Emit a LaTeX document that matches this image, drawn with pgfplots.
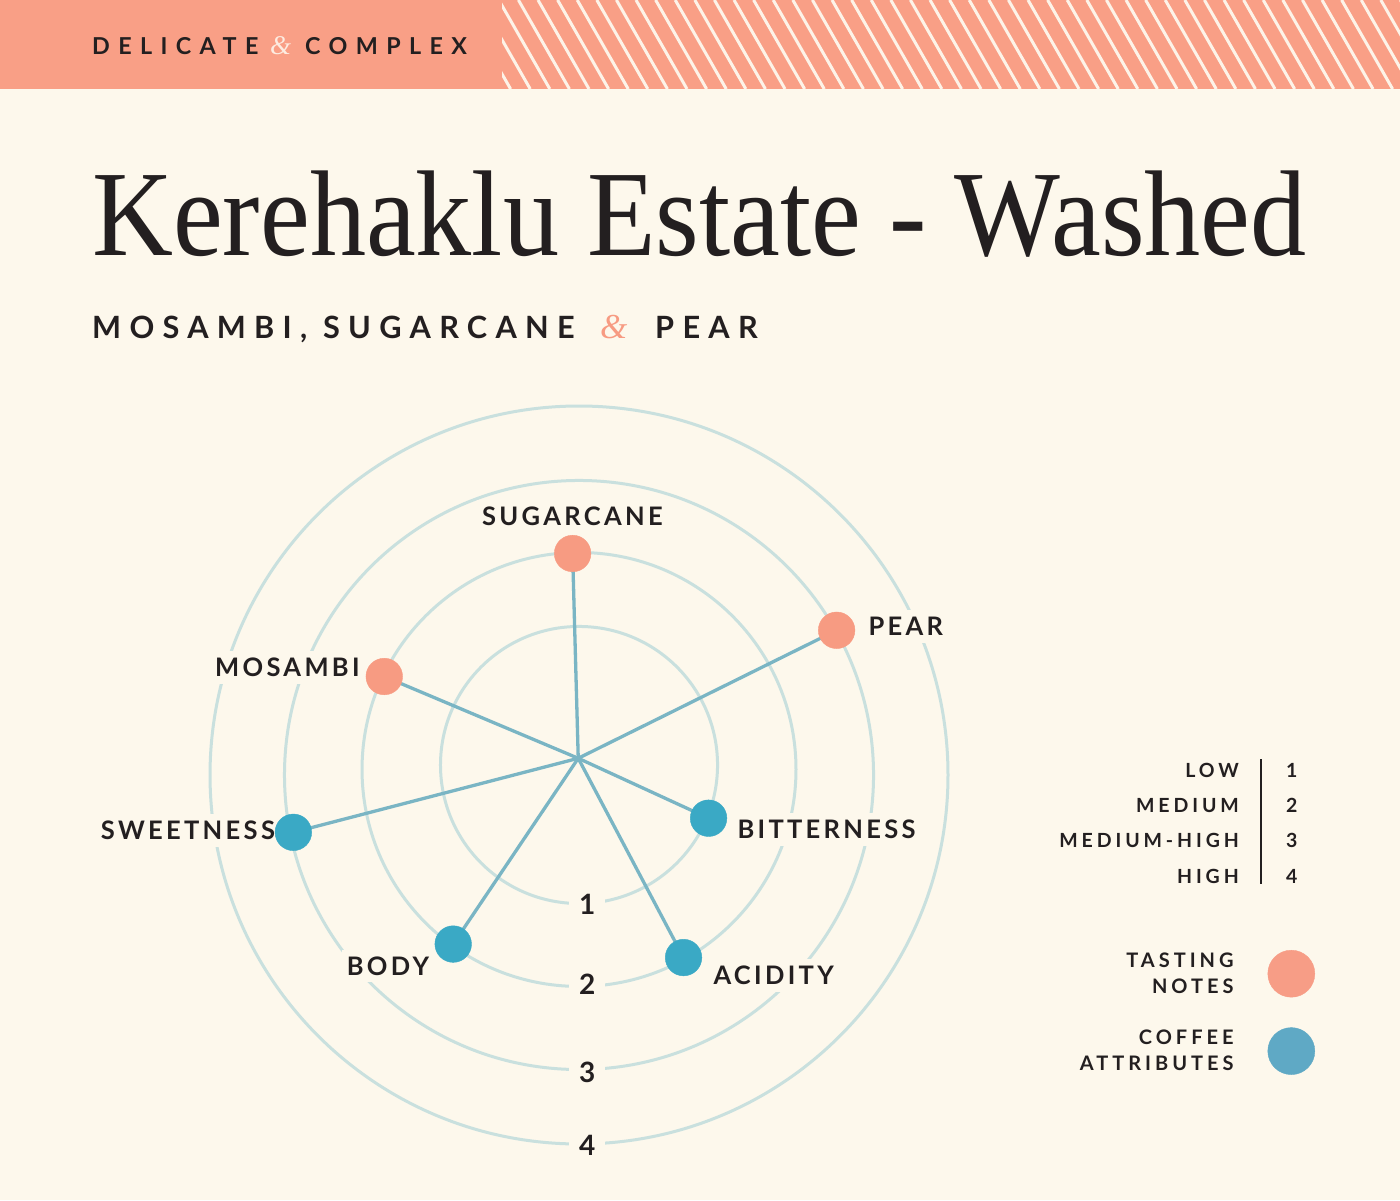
\documentclass[border=0pt]{standalone}
\usepackage{fontspec}
\usepackage{pgfplots}
\usepackage{pgfplotstable}
\pgfplotsset{compat=1.18}
\setmainfont{Liberation Serif}
\newfontfamily\labelfont{Lato}[LetterSpace=13]
\newfontfamily\subfont{Lato}[LetterSpace=27]
\newfontfamily\bannerfont{Lato}[LetterSpace=36]
\newfontfamily\keyfont{Lato}[LetterSpace=20]
\newfontfamily\numfont{Lato}
\newfontfamily\ampfont{Liberation Serif}

\definecolor{cream}{RGB}{253,248,236}
\definecolor{banner}{RGB}{249,159,134}
\definecolor{stripe}{RGB}{253,243,232}
\definecolor{ink}{RGB}{35,31,32}
\definecolor{ring}{RGB}{201,224,222}
\definecolor{spoke}{RGB}{122,181,196}
\definecolor{note}{RGB}{247,155,130}
\definecolor{attr}{RGB}{58,169,197}
\definecolor{keynote}{RGB}{247,157,134}
\definecolor{keyattr}{RGB}{95,169,197}
\definecolor{ampban}{RGB}{253,236,225}

% angle in degrees, value on the 1-4 scale
\pgfplotstableread{
angle value
91.7  2
28.3  3
154.6 2
}\notes
\pgfplotstableread{
angle value
192.5 3
234.3 2
299.0 2
339.2 1
}\attrs

\newcommand\lab{\labelfont\bfseries\fontsize{25.5bp}{30bp}\selectfont}
\newcommand\legfont{\keyfont\bfseries\fontsize{20bp}{26bp}\selectfont}

\begin{document}
\begin{tikzpicture}[x=1bp,y=1bp]
\fill[cream] (0,0) rectangle (1400,1200);
\fill[banner] (0,1111) rectangle (1400,1200);
\begin{scope}
  \clip (502,1111) rectangle (1400,1200);
  \foreach \i in {0,...,50}
    \draw[stripe, line width=3bp] ({440+19.6*\i},1200) -- ({491+19.6*\i},1111);
\end{scope}

% banner text
\node[anchor=base west, inner sep=0, text=ink, font=\bannerfont\bfseries\fontsize{23.3bp}{28bp}\selectfont] at (92,1145) {DELICATE};
\node[anchor=base west, inner sep=0, text=ampban, font=\ampfont\itshape\fontsize{27bp}{28bp}\selectfont] at (270,1145) {\&};
\node[anchor=base west, inner sep=0, text=ink, font=\bannerfont\bfseries\fontsize{23.3bp}{28bp}\selectfont] at (305,1145) {COMPLEX};

% title and subtitle
\node[anchor=base west, inner sep=0, text=ink, font=\fontsize{122bp}{130bp}\selectfont] at (92,944) {\scalebox{0.919}[1]{Kerehaklu Estate - Washed}};
\node[anchor=base west, inner sep=0, text=ink, font=\subfont\bfseries\fontsize{30.7bp}{34bp}\selectfont] at (92,861) {MOSAMBI, SUGARCANE};
\node[anchor=base west, inner sep=0, text=note, font=\ampfont\itshape\fontsize{35bp}{36bp}\selectfont] at (600,861) {\&};
\node[anchor=base west, inner sep=0, text=ink, font=\subfont\bfseries\fontsize{30.7bp}{34bp}\selectfont] at (655,861) {PEAR};

\begin{axis}[
    at={(579bp,431bp)}, anchor=origin,
    x=77bp, y=77bp,
    xmin=-5, xmax=5, ymin=-5, ymax=5,
    hide axis, clip=false,
    legend plot pos=right,
    legend cell align=right,
    legend style={draw=none, fill=none, at={(1.4561,0.2652)}, anchor=north east,
        font=\legfont, text=ink, row sep=30bp, column sep=34bp, inner sep=0pt,
        nodes={inner sep=0pt, align=right}},
]
\draw[ring, line width=3bp] (axis cs:0,0.052) circle[radius=1.799];
\draw[ring, line width=3bp] (axis cs:0,-0.006) circle[radius=2.818];
\draw[ring, line width=3bp] (axis cs:0,-0.078) circle[radius=3.825];
\draw[ring, line width=3bp] (axis cs:0,-0.078) circle[radius=4.792];

\tikzset{lab/.style={font=\lab, text=ink, fill=cream, inner xsep=5bp, inner ysep=7bp, anchor=west}}
\node[lab] at (axis cs:-1.325,3.286) {SUGARCANE};
\node[lab] at (axis cs:-4.792,1.321) {MOSAMBI};
\node[lab] at (axis cs:-6.277,-0.801) {SWEETNESS};
\node[lab] at (axis cs:-3.082,-2.558) {BODY};
\node[lab] at (axis cs:3.692,1.848) {PEAR};
\node[lab] at (axis cs:1.991,-0.783) {BITTERNESS};
\node[lab] at (axis cs:1.679,-2.684) {ACIDITY};

\tikzset{num/.style={font=\numfont\bfseries\fontsize{28bp}{30bp}\selectfont, text=ink, fill=cream, inner xsep=10bp, inner ysep=3bp}}
\node[num] at (axis cs:0.108,-1.753) {1};
\node[num] at (axis cs:0.108,-2.796) {2};
\node[num] at (axis cs:0.108,-3.944) {3};
\node[num] at (axis cs:0.108,-4.887) {4};

\addplot[spoke, line width=3.3bp, forget plot,
    quiver={u={-0.01-(\thisrow{value}+0.8)*cos(\thisrow{angle})},
            v={0.139-(\thisrow{value}+0.8)*sin(\thisrow{angle})}}]
    table[x expr={(\thisrow{value}+0.8)*cos(\thisrow{angle})},
          y expr={(\thisrow{value}+0.8)*sin(\thisrow{angle})}] {\notes};
\addplot[spoke, line width=3.3bp, forget plot,
    quiver={u={-0.01-(\thisrow{value}+0.8)*cos(\thisrow{angle})},
            v={0.139-(\thisrow{value}+0.8)*sin(\thisrow{angle})}}]
    table[x expr={(\thisrow{value}+0.8)*cos(\thisrow{angle})},
          y expr={(\thisrow{value}+0.8)*sin(\thisrow{angle})}] {\attrs};

\addplot[note, only marks, mark=*, mark size=18.3bp, mark options={fill=note, draw=note},
    legend image code/.code={\fill[keynote] (0bp,0bp) circle[radius=23.5bp];}]
    table[x expr={(\thisrow{value}+0.8)*cos(\thisrow{angle})},
          y expr={(\thisrow{value}+0.8)*sin(\thisrow{angle})}] {\notes};
\addlegendentry{TASTING\\NOTES}
\addplot[attr, only marks, mark=*, mark size=18.3bp, mark options={fill=attr, draw=attr},
    legend image code/.code={\fill[keyattr] (0bp,0bp) circle[radius=23.5bp];}]
    table[x expr={(\thisrow{value}+0.8)*cos(\thisrow{angle})},
          y expr={(\thisrow{value}+0.8)*sin(\thisrow{angle})}] {\attrs};
\addlegendentry{COFFEE\\ATTRIBUTES}
\end{axis}

% value key
\tikzset{key/.style={font=\legfont\fontsize{19.5bp}{24bp}\selectfont, text=ink, inner sep=0pt, anchor=east},
         keyn/.style={font=\numfont\bfseries\fontsize{19.5bp}{24bp}\selectfont, text=ink, inner sep=0pt}}
\node[key] at (1239,429.3) {LOW};
\node[key] at (1239,394.3) {MEDIUM};
\node[key] at (1239,359.3) {MEDIUM-HIGH};
\node[key] at (1239,323.3) {HIGH};
\node[keyn] at (1291.7,429.3) {1};
\node[keyn] at (1291.7,394.3) {2};
\node[keyn] at (1291.7,359.3) {3};
\node[keyn] at (1291.7,323.3) {4};
\draw[ink, line width=1.5bp] (1261,441) -- (1261,316);
\end{tikzpicture}
\end{document}
